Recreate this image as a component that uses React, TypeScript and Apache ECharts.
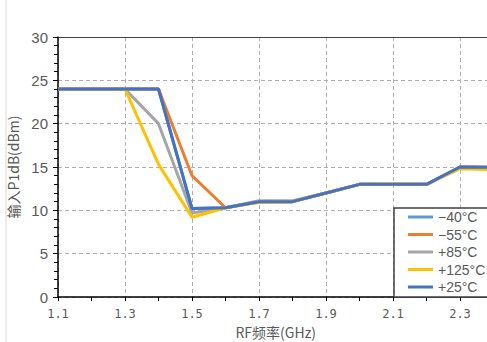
import React, { useEffect, useRef } from "react";
import * as echarts from "echarts";

// RF frequency points (GHz)
const frequencies = ["1.1", "1.2", "1.3", "1.4", "1.5", "1.6", "1.7", "1.8", "1.9", "2.0", "2.1", "2.2", "2.3", "2.4"];

// Input P1dB (dBm) per temperature
const minus40 = [24, 24, 24, 24, 10.2, 10.3, 11, 11, 12, 13, 13, 13, 15, 14.95];
const minus55 = [24, 24, 24, 24, 14, 10.3, 11, 11, 12, 13, 13, 13, 15, 14.95];
const plus85 = [24, 24, 24, 20, 9.7, 10.3, 11.1, 11.1, 12, 13, 13, 13, 14.9, 14.8];
const plus125 = [24, 24, 24, 15.3, 9.2, 10.3, 10.9, 11, 12, 13, 13, 13, 14.8, 14.7];
const plus25 = [24, 24, 24, 24, 10.2, 10.3, 11, 11, 12, 13, 13, 13, 15, 14.95];

const seriesNames = ["−40°C", "−55°C", "+85°C", "+125°C", "+25°C"];
const seriesData = [minus40, minus55, plus85, plus125, plus25];
const seriesColors = ["#5B9BD5", "#ED7D31", "#A5A5A5", "#FFC000", "#4472C4"];

const yTicks = { min: 0, max: 30, interval: 5 };

export default function App() {
  const ref = useRef<HTMLDivElement>(null);

  useEffect(() => {
    if (!ref.current) return;
    const chart = echarts.init(ref.current, undefined, { renderer: "svg" });
    chart.setOption({
      animation: false,
      backgroundColor: "#ffffff",
      grid: {
        left: 58,
        top: 37,
        right: 6.5,
        bottom: 45,
        containLabel: false,
        outerBoundsMode: "none",
      },
      legend: {
        orient: "vertical",
        left: 394,
        top: 208,
        backgroundColor: "#ffffff",
        borderColor: "#404040",
        borderWidth: 1.5,
        padding: [2, 30, 3, 14],
        itemWidth: 25,
        itemHeight: 14,
        itemGap: 3.5,
        icon: "path://M0,0 H25 V3 H0 Z",
        data: seriesNames,
        textStyle: {
          fontFamily: "Liberation Sans",
          fontSize: 14,
          color: "#595959",
        },
      },
      xAxis: [
        {
          type: "category",
          data: frequencies,
          boundaryGap: false,
          name: "RF频率(GHz)",
          nameLocation: "middle",
          nameGap: 28,
          nameTextStyle: {
            fontFamily: "Noto Sans CJK SC",
            fontSize: 14,
            color: "#595959",
          },
          axisLine: { lineStyle: { color: "#000000", width: 1.5 } },
          axisTick: { show: true, interval: 0, length: 4, lineStyle: { color: "#000000" } },
          axisLabel: {
            interval: 1,
            margin: 11,
            fontFamily: "'DejaVu Sans Mono', 'Liberation Mono', monospace",
            fontSize: 12,
            color: "#595959",
          },
          splitLine: {
            show: true,
            interval: 1,
            lineStyle: { color: "#b0b0b0", type: [4, 3], width: 1 },
          },
        },
        {
          type: "category",
          data: frequencies,
          boundaryGap: false,
          position: "top",
          axisLine: { lineStyle: { color: "#404040", width: 1 } },
          axisTick: { show: false },
          axisLabel: { show: false },
          splitLine: { show: false },
        },
      ],
      yAxis: {
        type: "value",
        min: yTicks.min,
        max: yTicks.max,
        interval: yTicks.interval,
        name: "输入P1dB(dBm)",
        nameLocation: "middle",
        nameGap: 31,
        nameTextStyle: {
          fontFamily: "Noto Sans CJK SC",
          fontSize: 14,
          color: "#595959",
        },
        axisLine: { show: true, lineStyle: { color: "#000000", width: 1.5 } },
        axisTick: { show: true, length: 5, lineStyle: { color: "#000000" } },
        minorTick: { show: true, splitNumber: 5, length: 4, lineStyle: { color: "#000000" } },
        axisLabel: {
          margin: 10,
          fontFamily: "Liberation Sans",
          fontSize: 15,
          color: "#595959",
        },
        splitLine: {
          show: true,
          lineStyle: { color: "#b0b0b0", type: [4, 3], width: 1 },
        },
      },
      graphic: [
        {
          type: "line",
          shape: { x1: 6, y1: 0, x2: 6, y2: 342 },
          style: { stroke: "#d9d9d9", lineWidth: 1 },
          z: 0,
        },
      ],
      series: seriesNames.map((name, i) => ({
        name,
        type: "line",
        data: seriesData[i],
        showSymbol: false,
        symbol: "none",
        color: seriesColors[i],
        lineStyle: { width: 3, color: seriesColors[i] },
        z: 2 + i,
      })),
    });
    return () => chart.dispose();
  }, []);

  return (
    <div
      style={{
        position: "absolute",
        left: 0,
        top: 0,
        width: 487,
        height: 342,
        overflow: "hidden",
        background: "#ffffff",
      }}
    >
      <div ref={ref} style={{ width: 500, height: 342 }} />
    </div>
  );
}
